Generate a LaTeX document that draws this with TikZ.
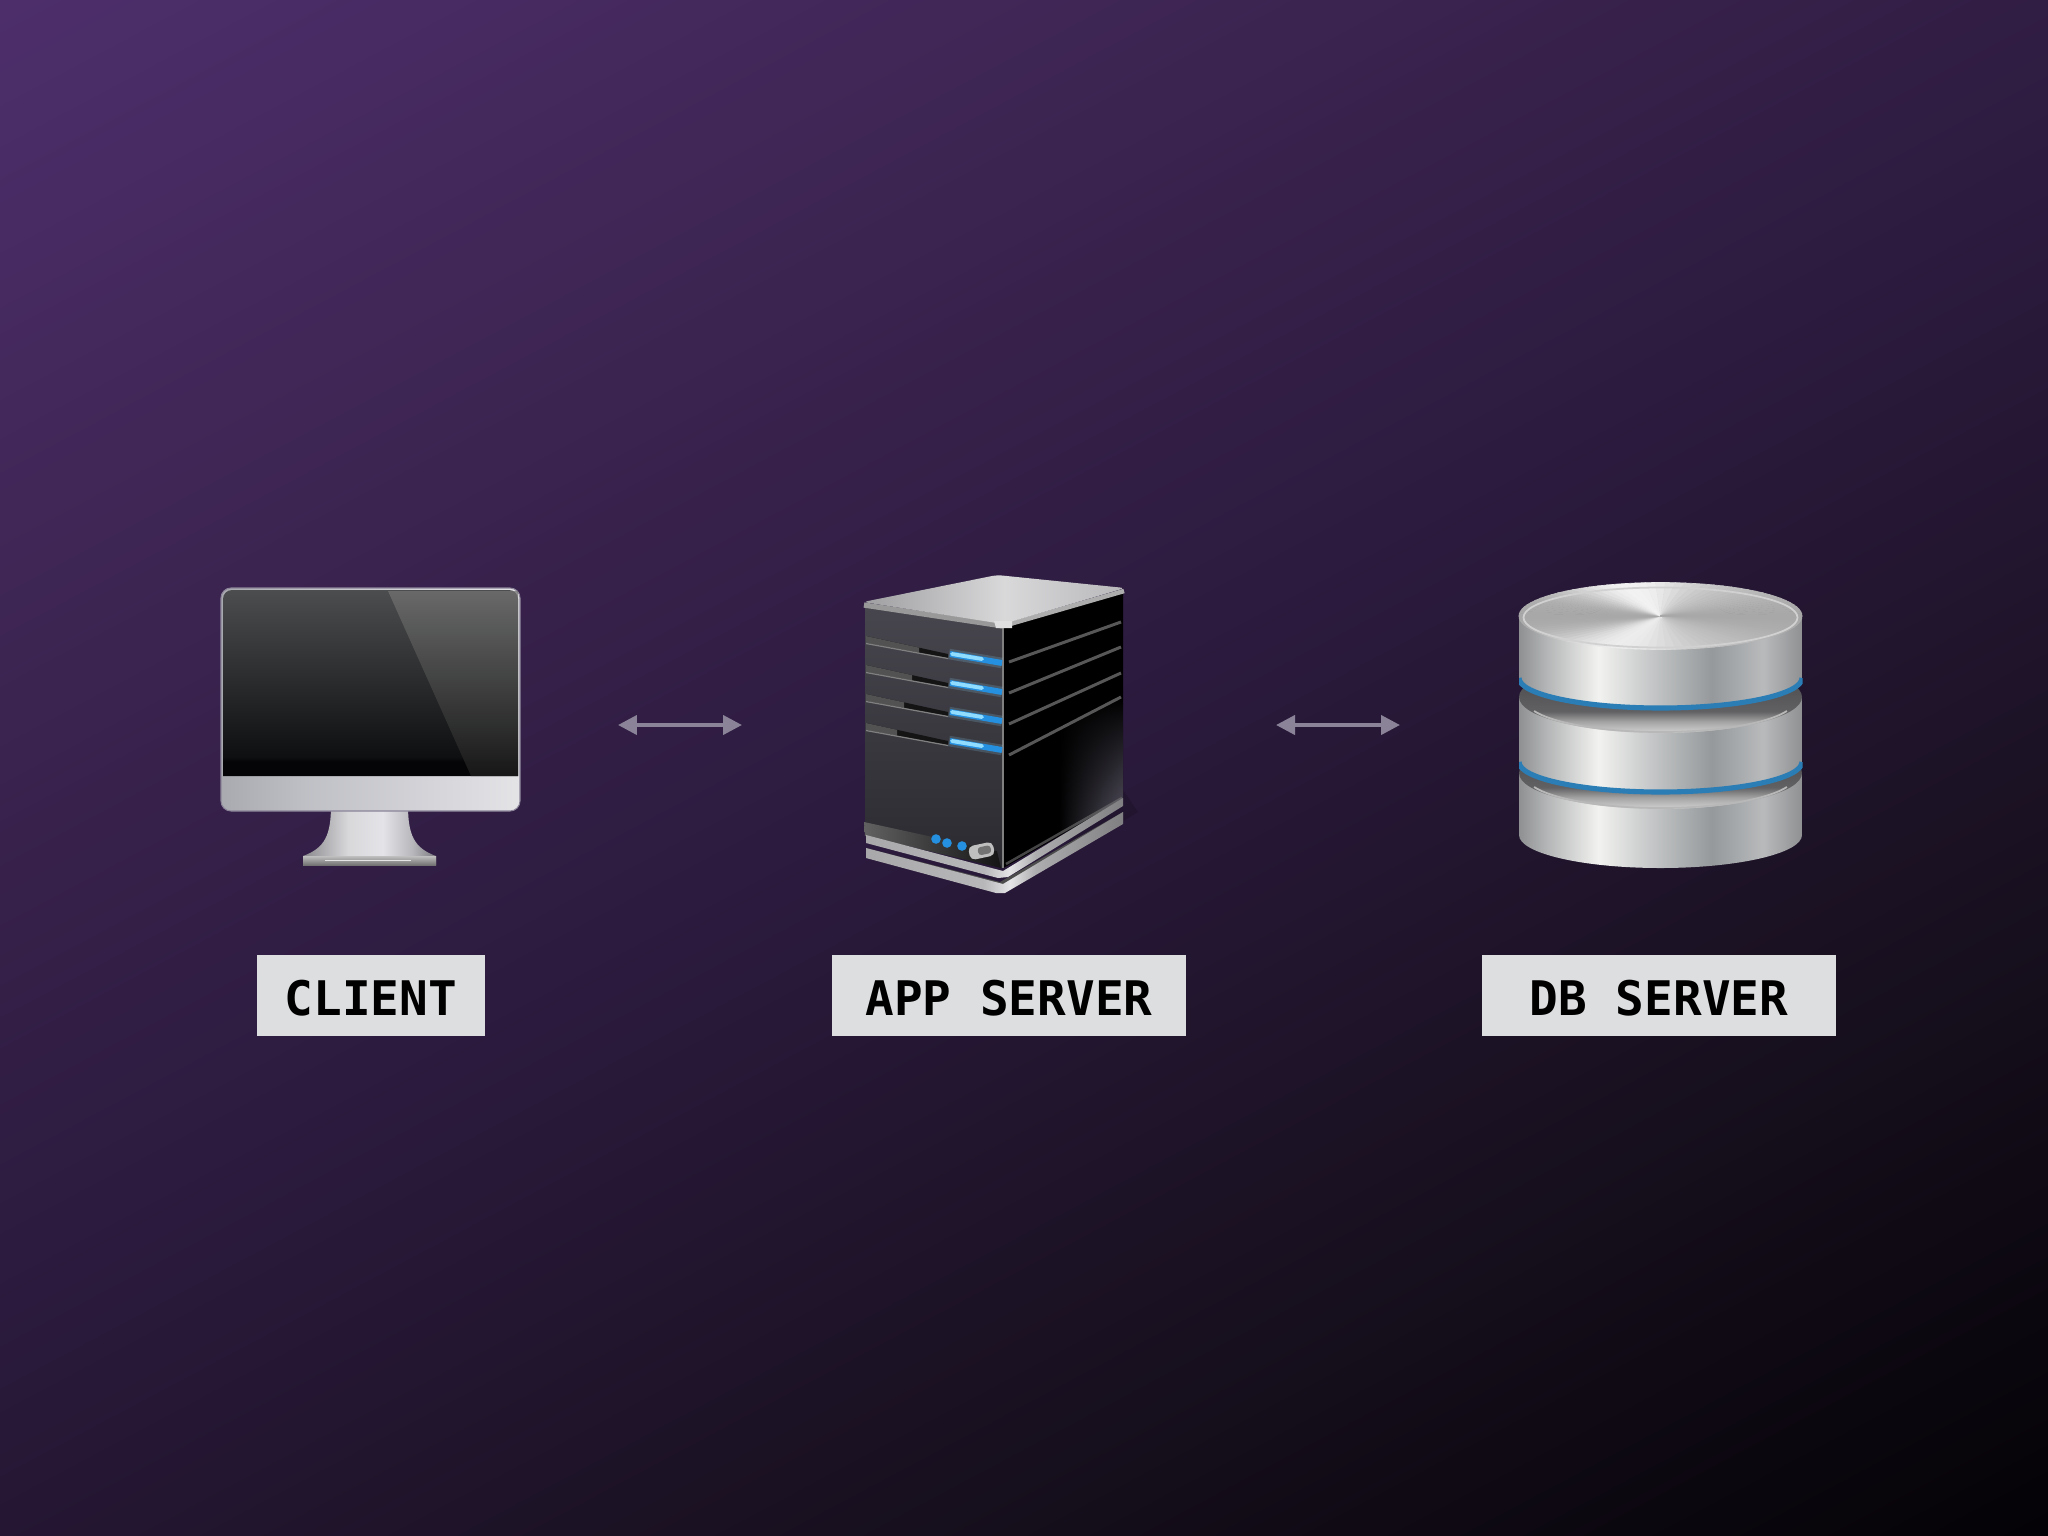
\documentclass[tikz,border=0pt]{standalone}
\usepackage{fontspec}
\setmonofont{DejaVu Sans Mono}
\usetikzlibrary{arrows.meta,fadings}

\definecolor{tagbg}{HTML}{DDDEE0}
\definecolor{linkcol}{HTML}{8B8499}
\definecolor{ledblue}{HTML}{2590E0}
\definecolor{ledglow}{HTML}{8FDCFF}
\definecolor{ringblue}{HTML}{2A7DB5}
\definecolor{facetop}{HTML}{47464E}
\definecolor{facebot}{HTML}{2B2A30}

\pgfdeclarehorizontalshading{bgfade}{100bp}{rgb(0bp)=(.302,.18,.42);rgb(25bp)=(.302,.18,.42);
  rgb(37.5bp)=(.239,.145,.322);rgb(50bp)=(.169,.102,.239);rgb(62.5bp)=(.094,.063,.122);
  rgb(75bp)=(.016,.008,.024);rgb(100bp)=(.016,.008,.024)}
\pgfdeclareverticalshading{screenfade}{100bp}{rgb(0bp)=(.016,.016,.024);rgb(25bp)=(.016,.016,.024);
  rgb(29bp)=(.02,.02,.027);rgb(30bp)=(.055,.059,.063);rgb(75bp)=(.298,.302,.306);rgb(100bp)=(.298,.302,.306)}
\pgfdeclarehorizontalshading{discmetal}{100bp}{rgb(0bp)=(.557,.565,.573);rgb(25bp)=(.557,.565,.573);
  rgb(30bp)=(.706,.714,.718);rgb(39bp)=(.949,.953,.941);rgb(48bp)=(.776,.784,.788);rgb(59bp)=(.584,.6,.608);
  rgb(68bp)=(.722,.729,.737);rgb(75bp)=(.561,.565,.573);rgb(100bp)=(.561,.565,.573)}
\pgfdeclarehorizontalshading{chinmetal}{100bp}{rgb(0bp)=(.663,.667,.69);rgb(25bp)=(.663,.667,.69);
  rgb(40bp)=(.753,.757,.776);rgb(60bp)=(.831,.831,.851);rgb(75bp)=(.894,.894,.906);rgb(100bp)=(.894,.894,.906)}
\pgfdeclarehorizontalshading{standmetal}{100bp}{rgb(0bp)=(.541,.533,.549);rgb(25bp)=(.541,.533,.549);
  rgb(42bp)=(.847,.847,.859);rgb(55bp)=(.894,.894,.91);rgb(66bp)=(.722,.722,.737);rgb(75bp)=(.486,.478,.502);rgb(100bp)=(.486,.478,.502)}
\pgfdeclarehorizontalshading{roofmetal}{100bp}{rgb(0bp)=(.62,.62,.63);rgb(25bp)=(.62,.62,.63);
  rgb(52bp)=(.85,.85,.855);rgb(75bp)=(.72,.72,.73);rgb(100bp)=(.72,.72,.73)}
\pgfdeclarehorizontalshading{platemetal}{100bp}{rgb(0bp)=(.66,.66,.67);rgb(25bp)=(.66,.66,.67);
  rgb(48bp)=(.72,.72,.73);rgb(53bp)=(.9,.9,.91);rgb(58bp)=(.68,.68,.69);rgb(75bp)=(.5,.5,.51);rgb(100bp)=(.5,.5,.51)}
\pgfdeclarehorizontalshading{sidefade}{100bp}{rgb(0bp)=(0,0,0);rgb(25bp)=(0,0,0);
  rgb(48bp)=(0,0,0);rgb(75bp)=(.46,.44,.52);rgb(100bp)=(.46,.44,.52)}
\pgfdeclareverticalshading{recess}{100bp}{rgb(0bp)=(.8,.8,.8);rgb(25bp)=(.8,.8,.8);
  rgb(27bp)=(.78,.78,.78);rgb(33bp)=(.64,.64,.64);rgb(40bp)=(.38,.38,.39);rgb(75bp)=(.26,.26,.27);rgb(100bp)=(.26,.26,.27)}

\tikzset{
  tag/.style={fill=tagbg, text=black, inner sep=0pt, minimum height=0.81cm, text height=0.40cm, text depth=0pt,
    font=\ttfamily\bfseries\fontsize{13.55}{16}\selectfont},
  link/.style={draw=linkcol, line width=1.14pt, {Triangle[length=5.4pt,width=5.4pt]}-{Triangle[length=5.4pt,width=5.4pt]}},
  disc/.style={shading=discmetal},
  ledline/.style={line width=1.7pt, ledblue}
}

\begin{document}
\begin{tikzpicture}[x=0.01cm, y=-0.01cm]
    \useasboundingbox (0,0) rectangle (2048,1536);

    % 背景渐变
    \begin{scope}
        \clip (0,0) rectangle (2048,1536);
        \shade[shading=bgfade, shading angle=-62] (-135,-391) rectangle (2183,1927);
    \end{scope}

    % 显示器 (外框、屏幕、反光、底座)
    \shade[shading=standmetal] (331,805) -- (408,805) .. controls (408,835) and (414,848) .. (436,856) -- (436,865)
        -- (303,865) -- (303,856) .. controls (325,848) and (331,835) .. (331,805) -- cycle;
    \shade[top color=black!25, bottom color=black!55] (303,856) rectangle (436,865);
    \draw[white!90!black, line width=0.5pt] (325,860.5) -- (411,860.5);
    \shade[shading=chinmetal, draw=linkcol, line width=0.3pt, rounded corners=0.1cm] (221,588) rectangle (520,811);
    \shade[shading=screenfade] (223,776) [rounded corners=0.09cm] -- (223,590) -- (518,590) [sharp corners] -- (518,776) -- cycle;
    \shade[top color=black!55!white, bottom color=black!88!white, opacity=0.75] (388,591) -- (518,591) -- (518,776) -- (471,776) -- cycle;

    % 服务器 (右侧面、正面、顶面)
    \fill[black, opacity=0.15] (1060,850) -- (1123,790) -- (1138,812) -- (1060,860) -- cycle;
    \fill[black!70!white] (866,848) -- (1000,882) -- (1123,812) -- (1123,822) -- (1000,886) -- (866,852) -- cycle;
    \fill[black] (1003,626) -- (1123,592) -- (1123,800) -- (1003,868) -- cycle;
    \shade[shading=sidefade, path fading=north] (1003,755) -- (1123,697) -- (1123,800) -- (1003,868) -- cycle;
    \draw[black!55!white, line width=0.7pt, opacity=0.6] (1006,864) -- (1122,798);
    \shade[top color=facetop, bottom color=facebot] (865,606) -- (1003,626) -- (1003,868) -- (865,833) -- cycle;
    \shade[left color=black!62!white, right color=black!92!white] (864,822) -- (997,851) -- (1001,868) -- (865,836) -- cycle;
    \draw[black!50!white, line width=0.7pt] (1003,628) -- (1003,868);

    % 四道插槽与蓝色指示灯
    \foreach \dy/\gx in {0/919,29/912,58/904,87/897} {
        \pgfmathsetmacro\gu{(\gx-866)*18/82}
        \pgfmathsetmacro\gl{(\gx-866)*15/82}
        \fill[black!92] (866,{636+\dy}) -- (948,{654+\dy}) -- (948,{658+\dy}) -- (866,{643+\dy}) -- cycle;
        \fill[black!68!white] (866,{636+\dy}) -- (\gx,{636+\dy+\gu}) -- (\gx,{643+\dy+\gl}) -- (866,{643+\dy}) -- cycle;
        \draw[black!50!white, line width=0.35pt] (866,{643.5+\dy}) -- (948,{658.5+\dy});
        \draw[ledglow, line width=3pt, opacity=0.18] (949,{654+\dy}) -- (1002,{663+\dy});
        \draw[ledline] (950,{654+\dy}) -- (1002,{663+\dy});
        \draw[ledglow, line width=1.1pt, line cap=round] (952,{654+\dy}) -- (982,{659+\dy});
    }
    % 右侧面的线条
    \foreach \ya/\yb in {662/622,693/647,724/673,755/697} {
        \draw[black!66!white, line width=0.85pt] (1009,\ya) -- (1121,\yb);
    }

    % 指示灯和电源按钮
    \foreach \lx/\ly in {936/839,947/843,962/846} {
        \fill[ledblue] (\lx,\ly) circle [radius=4.8];
    }
    \fill[black!25!white, rotate around={12:(981,851)}, rounded corners=0.05cm] (969,844) rectangle (994,858);
    \fill[black!55!white, rotate around={12:(981,851)}, rounded corners=0.03cm] (978,847) rectangle (991,855);

    % 顶面和边沿
    \draw[black!40!white, line width=1.5pt, line join=round] (864,605) -- (1003,626);
    \draw[black!32!white, line width=1.3pt] (1003,626) -- (1124,591);
    \shade[shading=roofmetal, rounded corners=0.05cm] (863,602) -- (997,575) -- (1125,588) -- (1003,624) -- cycle;
    \fill[black!12!white] (994,621) -- (1012,621) -- (1012,628) -- (996,628) -- cycle;

    % 服务器底板
    \shade[shading=platemetal] (866,848) -- (1003,884) -- (1123,812) -- (1123,824) -- (1005,893) -- (996,893) -- (866,858) -- cycle;
    \shade[shading=platemetal] (866,835) -- (1003,871) -- (1123,798) -- (1123,806) -- (1008,877) -- (998,878) -- (866,843) -- cycle;

    % 数据库 (下面两层)
    \foreach \ytop/\ybot/\ry in {773/835/33,697/762/30} {
        \shade[disc] (1519,\ytop) -- (1519,\ybot) arc[start angle=180, end angle=0, x radius=141.5, y radius=\ry] -- (1802.5,\ytop) -- cycle;
        \shade[shading=recess] (1660.5,\ytop) ellipse [x radius=141.5, y radius=36];
        \draw[black!28!white, line width=0.5pt] ({1660.5+134.5*cos(160)},{\ytop+3+32*sin(160)}) arc[start angle=160, end angle=20, x radius=134.5, y radius=32];
    }

    % 数据库顶层
    \shade[disc] (1519,616) -- (1519,678) arc[start angle=180, end angle=0, x radius=141.5, y radius=30] -- (1802.5,616) -- cycle;
    \foreach \a in {0,4,...,356} {
        \pgfmathsetmacro\g{0.72+0.06*cos(2*(\a-90))+0.18*max(0,cos(\a+107))^10+0.16*max(0,cos(\a-110))^8}
        \definecolor{wedgecol}{gray}{\g}
        \fill[wedgecol, draw=wedgecol, line width=0.2pt] (1660.5,616) -- ({1660.5+141.5*cos(\a)},{616+33.5*sin(\a)}) -- ({1660.5+141.5*cos(\a+4)},{616+33.5*sin(\a+4)}) -- cycle;
    }
    \draw[black!18!white, line width=0.5pt] (1660.5,617.5) ellipse [x radius=137, y radius=30];

    % 蓝色圆环
    \begin{scope}
        \clip (1519,640) rectangle (1802.5,810);
        \draw[ringblue, line width=1.45pt] (1519,678) arc[start angle=180, end angle=0, x radius=141.5, y radius=30];
        \draw[ringblue, line width=1.45pt] (1519,762) arc[start angle=180, end angle=0, x radius=141.5, y radius=30];
    \end{scope}

    % 双向箭头
    \coordinate (clientport) at (618,725);
    \coordinate (appwest) at (742,725);
    \coordinate (appeast) at (1276,725);
    \coordinate (dbport) at (1400,725);
    \draw[link] (clientport) -- (appwest);
    \draw[link] (appeast) -- (dbport);

    % 标签
    \node[tag, minimum width=2.28cm] (clienttag) at (371,995.5) {CLIENT};
    \node[tag, minimum width=3.54cm] (apptag) at (1009,995.5) {APP SERVER};
    \node[tag, minimum width=3.54cm] (dbtag) at (1659,995.5) {DB SERVER};
\end{tikzpicture}
\end{document}
